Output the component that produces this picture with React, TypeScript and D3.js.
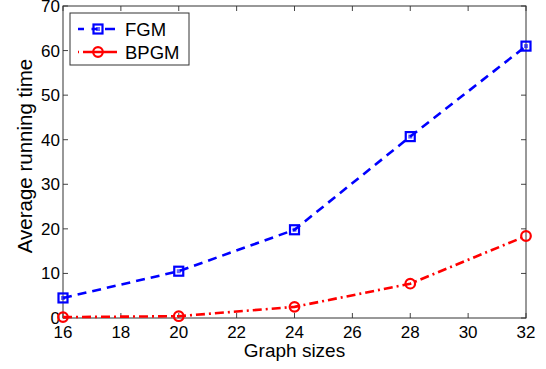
import * as d3 from "d3";
import { useEffect, useRef } from "react";

const graphSizes = [16, 20, 24, 28, 32];
const fgmTimes = [4.5, 10.5, 19.8, 40.7, 61.0];
const bpgmTimes = [0.2, 0.4, 2.5, 7.7, 18.4];
const xTicks = [16, 18, 20, 22, 24, 26, 28, 30, 32];
const yTicks = [0, 10, 20, 30, 40, 50, 60, 70];

const W = 546;
const H = 369;
const margin = { left: 63, right: 20, top: 6, bottom: 51 };
const font = "Liberation Sans, Arial, Helvetica, sans-serif";

function App() {
	const ref = useRef<SVGSVGElement>(null);

	useEffect(() => {
		const svg = d3.select(ref.current);
		svg.selectAll("*").remove();

		const x = d3.scaleLinear().domain([16, 32]).range([margin.left, W - margin.right]);
		const y = d3.scaleLinear().domain([0, 70]).range([H - margin.bottom, margin.top]);

		const x0 = x.range()[0], x1 = x.range()[1];
		const y0 = y.range()[0], y1 = y.range()[1];
		const tk = 5;

		svg.append("rect").attr("width", W).attr("height", H).attr("fill", "#fff");

		// ticks on all four sides, pointing in
		const g = svg.append("g").attr("stroke", "#444").attr("stroke-width", 1);
		xTicks.forEach((t) => {
			g.append("line").attr("x1", x(t)).attr("x2", x(t)).attr("y1", y0).attr("y2", y0 - tk);
			g.append("line").attr("x1", x(t)).attr("x2", x(t)).attr("y1", y1).attr("y2", y1 + tk);
		});
		yTicks.forEach((t) => {
			g.append("line").attr("x1", x0).attr("x2", x0 + tk).attr("y1", y(t)).attr("y2", y(t));
			g.append("line").attr("x1", x1).attr("x2", x1 - tk).attr("y1", y(t)).attr("y2", y(t));
		});

		svg.append("rect")
			.attr("x", x0).attr("y", y1)
			.attr("width", x1 - x0).attr("height", y0 - y1)
			.attr("fill", "none").attr("stroke", "#333").attr("stroke-width", 1);

		svg.selectAll(".xt").data(xTicks).enter().append("text")
			.attr("x", (d) => x(d)).attr("y", y0 + 20)
			.attr("text-anchor", "middle").attr("font-family", font).attr("font-size", 17)
			.text((d) => d);

		svg.selectAll(".yt").data(yTicks).enter().append("text")
			.attr("x", x0 - 3).attr("y", (d) => y(d) + 6)
			.attr("text-anchor", "end").attr("font-family", font).attr("font-size", 17)
			.text((d) => d);

		svg.append("text")
			.attr("x", (x0 + x1) / 2).attr("y", 357)
			.attr("text-anchor", "middle").attr("font-family", font).attr("font-size", 19)
			.text("Graph sizes");

		svg.append("text")
			.attr("transform", `translate(32,156) rotate(-90)`)
			.attr("text-anchor", "middle").attr("font-family", font).attr("font-size", 20.5)
			.text("Average running time");

		const line = d3.line<number>().x((d, i) => x(graphSizes[i])).y((d) => y(d));

		svg.append("path").datum(fgmTimes).attr("d", line)
			.attr("fill", "none").attr("stroke", "#0000ff").attr("stroke-width", 2.6)
			.attr("stroke-dasharray", "9,6");
		svg.append("path").datum(bpgmTimes).attr("d", line)
			.attr("fill", "none").attr("stroke", "#ff0000").attr("stroke-width", 2.6)
			.attr("stroke-dasharray", "9,4,2,4");

		const square = (sel, cx, cy) => {
			sel.append("rect").attr("x", cx - 4.5).attr("y", cy - 4.5).attr("width", 9).attr("height", 9)
				.attr("fill", "none").attr("stroke", "#0000ff").attr("stroke-width", 2.2);
			sel.append("rect").attr("x", cx - 2).attr("y", cy - 2).attr("width", 4).attr("height", 4)
				.attr("fill", "#0000ff").attr("opacity", 0.6);
		};
		const circle = (sel, cx, cy) => {
			sel.append("circle").attr("cx", cx).attr("cy", cy).attr("r", 4.8)
				.attr("fill", "none").attr("stroke", "#ff0000").attr("stroke-width", 2.2);
		};

		fgmTimes.forEach((v, i) => square(svg, x(graphSizes[i]), y(v)));
		bpgmTimes.forEach((v, i) => circle(svg, x(graphSizes[i]), y(v)));

		// legend
		const lg = svg.append("g");
		lg.append("rect").attr("x", 70).attr("y", 13).attr("width", 119).attr("height", 52)
			.attr("fill", "#fff").attr("stroke", "#333").attr("stroke-width", 1);
		lg.append("line").attr("x1", 78).attr("x2", 117).attr("y1", 29).attr("y2", 29)
			.attr("stroke", "#0000ff").attr("stroke-width", 2.6).attr("stroke-dasharray", "6,7.5,6,7.5,10");
		square(lg, 98, 29);
		lg.append("line").attr("x1", 78).attr("x2", 117).attr("y1", 52).attr("y2", 52)
			.attr("stroke", "#ff0000").attr("stroke-width", 2.6).attr("stroke-dasharray", "1,4,40");
		circle(lg, 98, 52);
		lg.append("text").attr("x", 125).attr("y", 35.5).attr("font-family", font).attr("font-size", 18.5).text("FGM");
		lg.append("text").attr("x", 125).attr("y", 58.5).attr("font-family", font).attr("font-size", 18.5).text("BPGM");
	}, []);

	return (
		<svg ref={ref} width={W} height={H} style={{ position: "absolute", left: 0, top: 0 }}></svg>
	);
}

export default App;
